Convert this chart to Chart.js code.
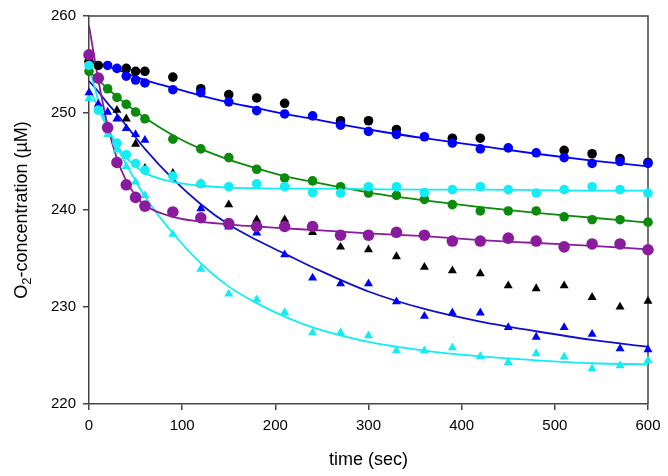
<!DOCTYPE html>
<html>
<head>
<meta charset="utf-8">
<script src="https://cdn.jsdelivr.net/npm/chart.js@4"></script>
<style>
  body { margin: 0; background: #fff; }
  #wrap { width: 668px; height: 476px; }
</style>
</head>
<body>
<div id="wrap"><canvas id="chart" width="668" height="476"></canvas></div>
<script>
// sample times (sec)
const times = [0,10,20,30,40,50,60,90,120,150,180,210,240,270,300,330,360,390,420,450,480,510,540,570,600];

// measured points, null = not visible in the picture
const blackCircles = [255.3,254.9,null,null,254.6,254.3,254.3,253.7,252.5,251.9,251.55,251.0,null,249.2,249.2,248.3,null,247.4,247.4,null,null,246.15,245.8,245.3,244.9];
const blueCircles  = [null,null,254.9,254.6,253.8,253.4,253.1,252.4,252.1,251.15,250.25,249.9,249.7,248.75,248.1,247.8,247.55,246.9,246.3,246.4,245.9,245.4,244.8,245.0,244.8];
const greenCircles = [254.3,null,252.5,251.6,250.9,250.1,249.4,247.3,246.3,245.4,244.2,243.3,243.0,242.4,241.75,241.5,241.1,240.55,239.9,239.9,239.9,239.3,239.0,239.0,238.75];
const purpleCircles = [256.0,253.6,248.5,244.9,242.6,241.3,240.4,239.8,239.2,238.6,238.3,238.3,238.3,237.4,237.4,237.7,237.4,236.8,236.8,237.1,236.8,236.2,236.5,236.5,235.9];
const cyanCircles  = [254.9,250.3,248.4,246.9,245.7,244.8,244.1,243.5,242.7,242.4,242.7,242.4,241.8,241.75,242.4,242.4,241.8,242.1,242.4,242.1,241.75,242.1,242.4,242.1,241.75];
const blueTriangles = [252.1,250.9,250.1,249.4,248.4,247.8,247.2,null,240.15,238.25,237.65,235.4,233.0,232.4,232.4,230.55,229.05,229.4,229.4,227.9,226.9,227.9,227.2,225.7,225.6];
const blackTriangles = [null,null,null,250.3,249.4,246.8,244.3,243.8,242.7,240.55,239.0,239.0,237.7,236.2,235.9,235.2,234.1,233.75,233.45,232.2,231.9,232.2,231.0,230.0,230.6];
const cyanTriangles = [251.5,250.3,247.8,246.2,244.5,242.9,241.5,237.5,233.9,231.35,230.75,229.45,227.35,227.35,227.05,225.5,225.5,225.8,224.9,224.3,225.2,224.85,223.65,223.95,224.5];

// fitted curves
const fitTimes = [0,10,20,30,40,50,60,90,120,150,180,210,240,300,360,420,480,540,600];
const fitBlue    = [255.2,255.05,254.8,254.5,254.1,253.75,253.4,252.6,251.8,251.1,250.5,249.9,249.4,248.3,247.4,246.6,245.8,245.1,244.5];
const fitGreen   = [254.3,253.4,252.5,251.7,250.9,250.2,249.5,247.7,246.3,245.2,244.3,243.5,242.9,241.8,241.0,240.3,239.7,239.2,238.7];
const fitCyan    = [254.8,251.3,248.6,246.7,245.4,244.5,243.8,242.9,242.5,242.3,242.25,242.2,242.2,242.15,242.1,242.1,242.05,242.0,242.0];
const fitPurple  = [259.0,253.4,248.7,245.3,243.0,241.5,240.5,239.3,238.8,238.5,238.3,238.1,237.95,237.6,237.3,236.9,236.6,236.3,235.95];
const fitBlueTri = [253.3,252.2,251.0,249.9,248.7,247.5,246.3,243.2,240.6,238.5,236.9,235.5,234.1,231.6,229.8,228.5,227.5,226.6,225.9];
const fitCyanTri = [252.6,250.5,248.4,246.5,244.7,243.0,241.4,237.6,234.5,232.1,230.4,229.0,227.9,226.4,225.5,224.9,224.5,224.2,224.1];

const xTicks = [0,100,200,300,400,500,600];
const yTicks = [220,230,240,250,260];

const C_BLACK = '#000000', C_BLUE = '#0000ff', C_BLUE2 = '#1010c4',
      C_GREEN = '#0b8a0b', C_CYAN = '#12ecf4', C_PURPLE = '#8a1a9e', AXIS = '#444';

const pts = (xs, ys) => xs.map((x, i) => ({ x, y: ys[i] })).filter(p => p.y !== null);

function markers(label, ys, color, style, r) {
  return { label, data: pts(times, ys), showLine: false, pointStyle: style,
           pointRadius: r, pointBackgroundColor: color, pointBorderColor: color,
           pointBorderWidth: 0, order: 1, clip: false };
}
function fit(label, ys, color) {
  return { label, data: pts(fitTimes, ys), showLine: true, pointRadius: 0,
           borderColor: color, borderWidth: 1.8, cubicInterpolationMode: 'monotone',
           fill: false, order: 2 };
}

// frame on top/right + y title with subscript
const framePlugin = {
  id: 'frame',
  beforeDatasetsDraw(chart) {
    const { ctx, chartArea: a } = chart;
    ctx.save();
    ctx.strokeStyle = AXIS;
    ctx.lineWidth = 1.5;
    ctx.beginPath();
    ctx.moveTo(a.left, a.top); ctx.lineTo(a.right, a.top); ctx.lineTo(a.right, a.bottom);
    ctx.stroke();
    ctx.restore();
  },
  afterDraw(chart) {
    const { ctx, chartArea: a } = chart;
    const big = '18px "Liberation Sans", Arial, sans-serif';
    const small = '13px "Liberation Sans", Arial, sans-serif';
    ctx.save();
    ctx.translate(21, (a.top + a.bottom) / 2);
    ctx.rotate(-Math.PI / 2);
    ctx.fillStyle = '#000';
    ctx.textBaseline = 'alphabetic';
    ctx.font = big;  const w1 = ctx.measureText('O').width;
    const rest = '-concentration (\u00B5M)';
    const w3 = ctx.measureText(rest).width;
    ctx.font = small; const w2 = ctx.measureText('2').width;
    let x = -(w1 + w2 + w3) / 2;
    const base = 6;
    ctx.font = big;   ctx.fillText('O', x, base); x += w1;
    ctx.font = small; ctx.fillText('2', x, base + 4); x += w2;
    ctx.font = big;   ctx.fillText(rest, x, base);
    ctx.restore();
  }
};

new Chart(document.getElementById('chart'), {
  type: 'scatter',
  data: {
    datasets: [
      markers('purple', purpleCircles, C_PURPLE, 'circle', 5.8),
      markers('cyan', cyanCircles, C_CYAN, 'circle', 4.8),
      markers('blue', blueCircles, C_BLUE, 'circle', 4.8),
      markers('black', blackCircles, C_BLACK, 'circle', 4.8),
      markers('green', greenCircles, C_GREEN, 'circle', 4.8),
      markers('blue tri', blueTriangles, C_BLUE, 'triangle', 5.2),
      markers('black tri', blackTriangles, C_BLACK, 'triangle', 5.2),
      markers('cyan tri', cyanTriangles, C_CYAN, 'triangle', 5.2),
      fit('fit purple', fitPurple, C_PURPLE),
      fit('fit cyan', fitCyan, C_CYAN),
      fit('fit blue', fitBlue, C_BLUE),
      fit('fit green', fitGreen, C_GREEN),
      fit('fit blue tri', fitBlueTri, C_BLUE2),
      fit('fit cyan tri', fitCyanTri, C_CYAN)
    ]
  },
  options: {
    responsive: false,
    animation: false,
    layout: { padding: { top: 13, right: 20, left: 0, bottom: 0 } },
    plugins: { legend: { display: false }, tooltip: { enabled: false } },
    scales: {
      x: {
        type: 'linear', min: 0, max: 600,
        afterBuildTicks: s => { s.ticks = xTicks.map(v => ({ value: v })); },
        afterFit: s => { s.height = 72; },
        ticks: { color: '#000', padding: 7, maxRotation: 0,
                 font: { family: '"Liberation Sans", Arial, sans-serif', size: 15 } },
        grid: { drawOnChartArea: false, drawTicks: true, tickLength: 6, color: AXIS, lineWidth: 1.5 },
        border: { display: true, color: AXIS, width: 1.5 },
        title: { display: true, text: 'time (sec)', color: '#000',
                 font: { family: '"Liberation Sans", Arial, sans-serif', size: 18 },
                 padding: { top: 0, bottom: 5 } }
      },
      y: {
        type: 'linear', min: 220, max: 260,
        afterBuildTicks: s => { s.ticks = yTicks.map(v => ({ value: v })); },
        afterFit: s => { s.width = 89; },
        ticks: { color: '#000', padding: 7,
                 font: { family: '"Liberation Sans", Arial, sans-serif', size: 15 } },
        grid: { drawOnChartArea: false, drawTicks: true, tickLength: 6, color: AXIS, lineWidth: 1.5 },
        border: { display: true, color: AXIS, width: 1.5 }
      }
    }
  },
  plugins: [framePlugin]
});
</script>
</body>
</html>
